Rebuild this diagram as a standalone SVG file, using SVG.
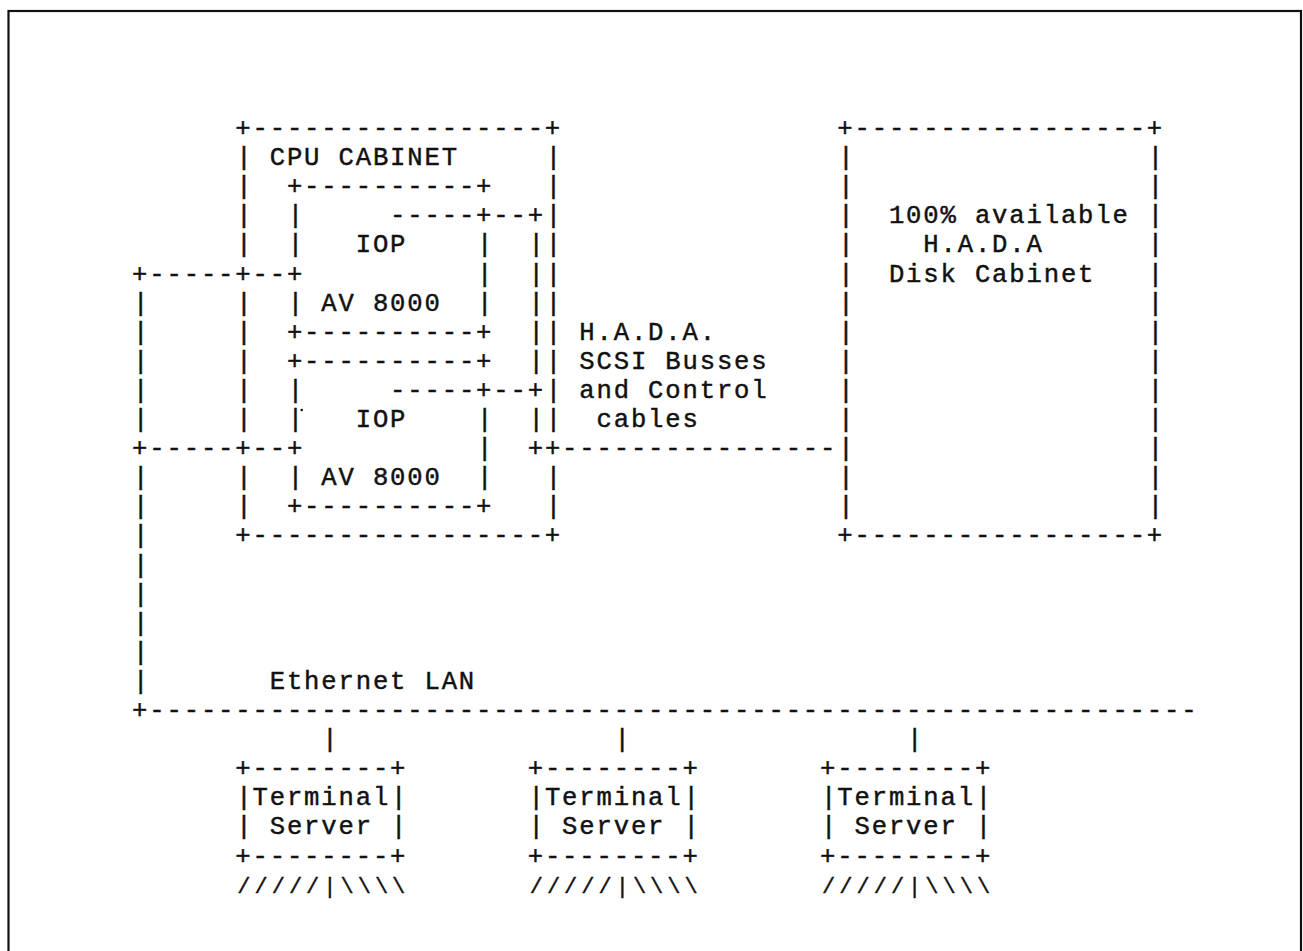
<svg xmlns="http://www.w3.org/2000/svg" width="1303" height="951" viewBox="0 0 1303 951">
<style>
.t{font-family:"Liberation Mono","Courier New",monospace;font-size:25.6px;letter-spacing:1.84px;fill:#111;stroke:#111;stroke-width:0.45;}
.b{font-family:"Liberation Mono","Courier New",monospace;font-size:25.6px;text-anchor:middle;fill:#111;stroke:#111;stroke-width:0.5;}
.f{font-family:"Liberation Mono","Courier New",monospace;font-size:22px;text-anchor:middle;fill:#111;stroke:#111;stroke-width:0.4;}
</style>
<rect width="1303" height="951" fill="#fff"/>
<rect x="8.5" y="11" width="1292.5" height="960" fill="none" stroke="#111" stroke-width="2.2"/>

<g id="cpu-cabinet">
<text class="t" x="235.3" y="136">+-----------------+</text>
<text class="t" x="235.3" y="543.4">+-----------------+</text>
<text class="t" x="269.7" y="165.1">CPU CABINET</text>
<text class="b" x="243.9" y="165.1">|</text>
<text class="b" x="243.9" y="194.2">|</text>
<text class="b" x="243.9" y="223.3">|</text>
<text class="b" x="243.9" y="252.4">|</text>
<text class="b" x="243.9" y="310.6">|</text>
<text class="b" x="243.9" y="339.7">|</text>
<text class="b" x="243.9" y="368.8">|</text>
<text class="b" x="243.9" y="397.9">|</text>
<text class="b" x="243.9" y="427">|</text>
<text class="b" x="243.9" y="485.2">|</text>
<text class="b" x="243.9" y="514.3">|</text>
<text class="b" x="553.5" y="165.1">|</text>
<text class="b" x="553.5" y="194.2">|</text>
<text class="b" x="553.5" y="223.3">|</text>
<text class="b" x="553.5" y="252.4">|</text>
<text class="b" x="553.5" y="281.5">|</text>
<text class="b" x="553.5" y="310.6">|</text>
<text class="b" x="553.5" y="339.7">|</text>
<text class="b" x="553.5" y="368.8">|</text>
<text class="b" x="553.5" y="397.9">|</text>
<text class="b" x="553.5" y="427">|</text>
<text class="b" x="553.5" y="485.2">|</text>
<text class="b" x="553.5" y="514.3">|</text>
</g>

<g id="iop-1">
<text class="t" x="286.9" y="194.2">+----------+</text>
<text class="t" x="286.9" y="339.7">+----------+</text>
<text class="t" x="355.7" y="252.4">IOP</text>
<text class="t" x="321.3" y="310.6">AV 8000</text>
<text class="b" x="295.5" y="223.3">|</text>
<text class="b" x="295.5" y="252.4">|</text>
<text class="b" x="295.5" y="310.6">|</text>
<text class="b" x="484.7" y="252.4">|</text>
<text class="b" x="484.7" y="281.5">|</text>
<text class="b" x="484.7" y="310.6">|</text>
</g>

<g id="iop-2">
<text class="t" x="286.9" y="368.8">+----------+</text>
<text class="t" x="286.9" y="514.3">+----------+</text>
<text class="t" x="355.7" y="427">IOP</text>
<text class="t" x="321.3" y="485.2">AV 8000</text>
<text class="b" x="295.5" y="397.9">|</text>
<text class="b" x="295.5" y="427">|</text>
<text class="b" x="295.5" y="485.2">|</text>
<text class="b" x="484.7" y="427">|</text>
<text class="b" x="484.7" y="456.1">|</text>
<text class="b" x="484.7" y="485.2">|</text>
<circle cx="301.7" cy="410" r="1.3" fill="#111"/>
</g>

<g id="disk-cabinet">
<text class="t" x="837.3" y="136">+-----------------+</text>
<text class="t" x="837.3" y="543.4">+-----------------+</text>
<text class="t" x="888.9" y="223.3">100% available</text>
<text class="t" x="923.3" y="252.4">H.A.D.A</text>
<text class="t" x="888.9" y="281.5">Disk Cabinet</text>
<text class="b" x="845.9" y="165.1">|</text>
<text class="b" x="845.9" y="194.2">|</text>
<text class="b" x="845.9" y="223.3">|</text>
<text class="b" x="845.9" y="252.4">|</text>
<text class="b" x="845.9" y="281.5">|</text>
<text class="b" x="845.9" y="310.6">|</text>
<text class="b" x="845.9" y="339.7">|</text>
<text class="b" x="845.9" y="368.8">|</text>
<text class="b" x="845.9" y="397.9">|</text>
<text class="b" x="845.9" y="427">|</text>
<text class="b" x="845.9" y="456.1">|</text>
<text class="b" x="845.9" y="485.2">|</text>
<text class="b" x="845.9" y="514.3">|</text>
<text class="b" x="1155.5" y="165.1">|</text>
<text class="b" x="1155.5" y="194.2">|</text>
<text class="b" x="1155.5" y="223.3">|</text>
<text class="b" x="1155.5" y="252.4">|</text>
<text class="b" x="1155.5" y="281.5">|</text>
<text class="b" x="1155.5" y="310.6">|</text>
<text class="b" x="1155.5" y="339.7">|</text>
<text class="b" x="1155.5" y="368.8">|</text>
<text class="b" x="1155.5" y="397.9">|</text>
<text class="b" x="1155.5" y="427">|</text>
<text class="b" x="1155.5" y="456.1">|</text>
<text class="b" x="1155.5" y="485.2">|</text>
<text class="b" x="1155.5" y="514.3">|</text>
</g>

<g id="terminal-server-1">
<text class="t" x="235.3" y="776.2">+--------+</text>
<text class="t" x="252.5" y="805.3">Terminal</text>
<text class="t" x="269.7" y="834.4">Server</text>
<text class="t" x="235.3" y="863.5">+--------+</text>
<text class="b" x="243.9" y="805.3">|</text>
<text class="b" x="243.9" y="834.4">|</text>
<text class="b" x="398.7" y="805.3">|</text>
<text class="b" x="398.7" y="834.4">|</text>
<text class="f" x="243.9 261.1 278.3 295.5 312.7 329.9 347.1 364.3 381.5 398.7" y="892.6">/////|\\\\</text>
</g>

<g id="terminal-server-2">
<text class="t" x="527.7" y="776.2">+--------+</text>
<text class="t" x="544.9" y="805.3">Terminal</text>
<text class="t" x="562.1" y="834.4">Server</text>
<text class="t" x="527.7" y="863.5">+--------+</text>
<text class="b" x="536.3" y="805.3">|</text>
<text class="b" x="536.3" y="834.4">|</text>
<text class="b" x="691.1" y="805.3">|</text>
<text class="b" x="691.1" y="834.4">|</text>
<text class="f" x="536.3 553.5 570.7 587.9 605.1 622.3 639.5 656.7 673.9 691.1" y="892.6">/////|\\\\</text>
</g>

<g id="terminal-server-3">
<text class="t" x="820.1" y="776.2">+--------+</text>
<text class="t" x="837.3" y="805.3">Terminal</text>
<text class="t" x="854.5" y="834.4">Server</text>
<text class="t" x="820.1" y="863.5">+--------+</text>
<text class="b" x="828.7" y="805.3">|</text>
<text class="b" x="828.7" y="834.4">|</text>
<text class="b" x="983.5" y="805.3">|</text>
<text class="b" x="983.5" y="834.4">|</text>
<text class="f" x="828.7 845.9 863.1 880.3 897.5 914.7 931.9 949.1 966.3 983.5" y="892.6">/////|\\\\</text>
</g>

<g id="connectors">
<text class="t" x="132.1" y="281.5">+-----+--+</text>
<text class="t" x="132.1" y="456.1">+-----+--+</text>
<text class="b" x="140.7" y="310.6">|</text>
<text class="b" x="140.7" y="339.7">|</text>
<text class="b" x="140.7" y="368.8">|</text>
<text class="b" x="140.7" y="397.9">|</text>
<text class="b" x="140.7" y="427">|</text>
<text class="b" x="140.7" y="485.2">|</text>
<text class="b" x="140.7" y="514.3">|</text>
<text class="b" x="140.7" y="543.4">|</text>
<text class="b" x="140.7" y="572.5">|</text>
<text class="b" x="140.7" y="601.6">|</text>
<text class="b" x="140.7" y="630.7">|</text>
<text class="b" x="140.7" y="659.8">|</text>
<text class="b" x="140.7" y="688.9">|</text>
<text class="t" x="132.1" y="718">+-------------------------------------------------------------</text>
<text class="t" x="269.7" y="688.9">Ethernet LAN</text>
<text class="b" x="329.9" y="747.1">|</text>
<text class="b" x="622.3" y="747.1">|</text>
<text class="b" x="914.7" y="747.1">|</text>
<text class="t" x="390.1" y="223.3">-----+--+</text>
<text class="t" x="390.1" y="397.9">-----+--+</text>
<text class="b" x="536.3" y="252.4">|</text>
<text class="b" x="536.3" y="281.5">|</text>
<text class="b" x="536.3" y="310.6">|</text>
<text class="b" x="536.3" y="339.7">|</text>
<text class="b" x="536.3" y="368.8">|</text>
<text class="b" x="536.3" y="427">|</text>
<text class="t" x="527.7" y="456.1">++----------------</text>
<text class="t" x="579.3" y="339.7">H.A.D.A.</text>
<text class="t" x="579.3" y="368.8">SCSI Busses</text>
<text class="t" x="579.3" y="397.9">and Control</text>
<text class="t" x="596.5" y="427">cables</text>
</g>
</svg>
